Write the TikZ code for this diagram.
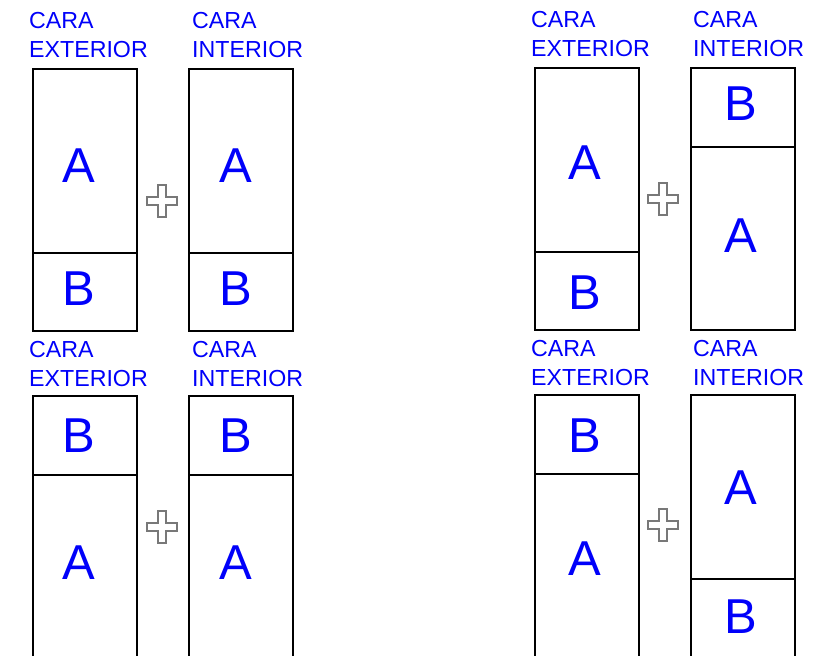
\documentclass[tikz,border=0pt]{standalone}
\usepackage{fontspec}
\setmainfont{Liberation Sans}
\definecolor{txtblue}{RGB}{0,0,250}
\definecolor{plusgray}{RGB}{120,120,120}
\begin{document}
\begin{tikzpicture}[x=1pt,y=-1pt,
  seg/.style={draw=black,line width=2pt,inner sep=0pt,outer sep=0pt,minimum width=104pt},
  letter/.style={text=txtblue,font=\fontsize{49}{49}\selectfont,inner sep=0pt},
  lbl/.style={text=txtblue,font=\fontsize{23.2}{28}\selectfont,anchor=base west,inner sep=0pt},
  plusmark/.style={draw=plusgray,line width=1.3pt,line join=miter}
]
\path[use as bounding box,clip] (0,0) rectangle (820,656);
\fill[white] (0,0) rectangle (820,656);

% ---------- top-left group ----------
\node[lbl] (tlL1) at (29,28) {CARA};
\node[lbl] (tlL2) at (29,57) {EXTERIOR};
\node[lbl] (tlR1) at (192,28) {CARA};
\node[lbl] (tlR2) at (192,57) {INTERIOR};
\node[seg,minimum height=184pt] (tle1) at (85,161) {};
\node[seg,minimum height=78pt] (tle2) at (85,292) {};
\node[seg,minimum height=184pt] (tli1) at (241,161) {};
\node[seg,minimum height=78pt] (tli2) at (241,292) {};
\node[letter] (tleA) at (79,166) {A};
\node[letter] (tleB) at (79,289) {B};
\node[letter] (tliA) at (236,166) {A};
\node[letter] (tliB) at (236,289) {B};

% ---------- bottom-left group ----------
\node[lbl] (blL1) at (29,357) {CARA};
\node[lbl] (blL2) at (29,386) {EXTERIOR};
\node[lbl] (blR1) at (192,357) {CARA};
\node[lbl] (blR2) at (192,386) {INTERIOR};
\node[seg,minimum height=79pt] (ble1) at (85,435.5) {};
\node[seg,minimum height=240pt] (ble2) at (85,595) {};
\node[seg,minimum height=79pt] (bli1) at (241,435.5) {};
\node[seg,minimum height=240pt] (bli2) at (241,595) {};
\node[letter] (bleB) at (79,436) {B};
\node[letter] (bleA) at (79,563) {A};
\node[letter] (bliB) at (236,436) {B};
\node[letter] (bliA) at (236,563) {A};

% ---------- top-right group ----------
\node[lbl] (trL1) at (531,27) {CARA};
\node[lbl] (trL2) at (531,56) {EXTERIOR};
\node[lbl] (trR1) at (693,27) {CARA};
\node[lbl] (trR2) at (693,56) {INTERIOR};
\node[seg,minimum height=184pt] (tre1) at (587,160) {};
\node[seg,minimum height=78pt] (tre2) at (587,291) {};
\node[seg,minimum height=79pt] (tri1) at (743,107.5) {};
\node[seg,minimum height=183pt] (tri2) at (743,238.5) {};
\node[letter] (treA) at (585,163) {A};
\node[letter] (treB) at (585,293) {B};
\node[letter] (triB) at (741,104) {B};
\node[letter] (triA) at (741,236) {A};

% ---------- bottom-right group ----------
\node[lbl] (brL1) at (531,356) {CARA};
\node[lbl] (brL2) at (531,385) {EXTERIOR};
\node[lbl] (brR1) at (693,356) {CARA};
\node[lbl] (brR2) at (693,385) {INTERIOR};
\node[seg,minimum height=79pt] (bre1) at (587,434.5) {};
\node[seg,minimum height=240pt] (bre2) at (587,594) {};
\node[seg,minimum height=184pt] (bri1) at (743,487) {};
\node[seg,minimum height=120pt] (bri2) at (743,639) {};
\node[letter] (breB) at (585,436) {B};
\node[letter] (breA) at (585,559) {A};
\node[letter] (briA) at (741,488) {A};
\node[letter] (briB) at (741,617) {B};

% ---------- plus signs ----------
\foreach \px/\py in {162/201,162/527,663/199,663/525}{
  \draw[plusmark,shift={(\px,\py)}]
    (-4,-16) -- (4,-16) -- (4,-4) -- (15,-4) -- (15,4) -- (4,4) -- (4,16)
    -- (-4,16) -- (-4,4) -- (-15,4) -- (-15,-4) -- (-4,-4) -- cycle;
}
\end{tikzpicture}
\end{document}
